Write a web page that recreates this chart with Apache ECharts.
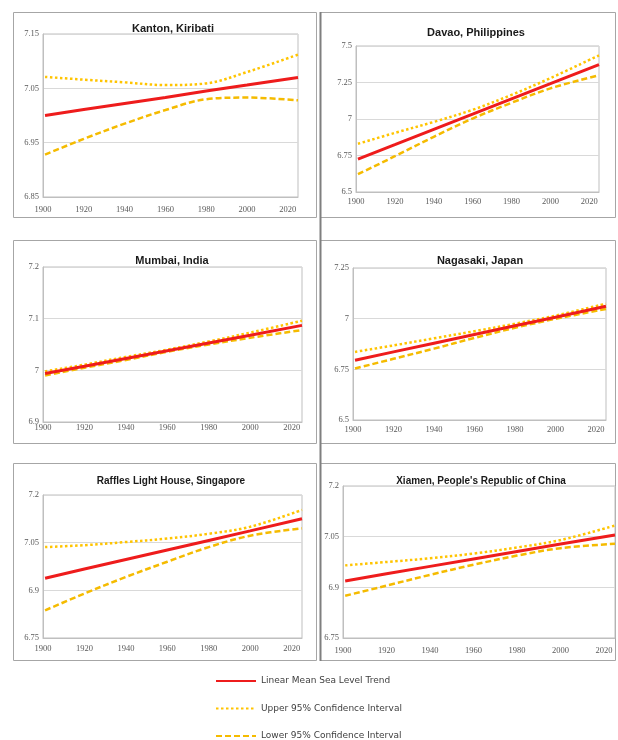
<!DOCTYPE html>
<html>
<head>
<meta charset="utf-8">
<script src="https://cdn.jsdelivr.net/npm/echarts@6/dist/echarts.min.js"></script>
<style>
html,body{margin:0;padding:0;background:#fff;}
#chart{width:618px;height:740px;}
</style>
</head>
<body>
<div id="chart"></div>
<script>
// ---------- data ----------
const years = [1901, 1920, 1940, 1960, 1980, 2000, 2025];
const stations = ['Kanton, Kiribati', 'Davao, Philippines', 'Mumbai, India', 'Nagasaki, Japan', 'Raffles Light House, Singapore', "Xiamen, People's Republic of China"];
const seriesNames = ['Linear Mean Sea Level Trend', 'Upper 95% Confidence Interval', 'Lower 95% Confidence Interval'];

const kantonTrend   = [7.000, 7.011, 7.022, 7.033, 7.045, 7.056, 7.070];
const kantonUpper   = [7.071, 7.066, 7.061, 7.056, 7.059, 7.080, 7.112];
const kantonLower   = [6.928, 6.957, 6.985, 7.010, 7.030, 7.033, 7.028];

const davaoTrend    = [6.725, 6.824, 6.929, 7.033, 7.138, 7.242, 7.373];
const davaoUpper    = [6.830, 6.905, 6.980, 7.063, 7.165, 7.280, 7.436];
const davaoLower    = [6.622, 6.745, 6.878, 7.003, 7.111, 7.210, 7.300];

const mumbaiTrend   = [6.994, 7.008, 7.023, 7.038, 7.053, 7.068, 7.087];
const mumbaiUpper   = [6.998, 7.011, 7.026, 7.040, 7.056, 7.073, 7.096];
const mumbaiLower   = [6.990, 7.005, 7.020, 7.036, 7.050, 7.063, 7.078];

const nagasakiTrend = [6.795, 6.836, 6.879, 6.922, 6.965, 7.007, 7.061];
const nagasakiUpper = [6.836, 6.868, 6.903, 6.938, 6.975, 7.015, 7.074];
const nagasakiLower = [6.754, 6.802, 6.852, 6.905, 6.955, 6.999, 7.048];

const rafflesTrend  = [6.938, 6.967, 6.997, 7.027, 7.057, 7.087, 7.125];
const rafflesUpper  = [7.036, 7.042, 7.052, 7.063, 7.078, 7.100, 7.153];
const rafflesLower  = [6.837, 6.890, 6.942, 6.990, 7.036, 7.072, 7.095];

const xiamenTrend   = [6.919, 6.940, 6.962, 6.984, 7.006, 7.028, 7.055];
const xiamenUpper   = [6.965, 6.975, 6.986, 7.000, 7.018, 7.040, 7.083];
const xiamenLower   = [6.875, 6.905, 6.937, 6.967, 6.994, 7.016, 7.029];

const xMin = 1900, xMax = 2025, xStep = 20;
const yMins  = [6.85, 6.5, 6.9, 6.5, 6.75, 6.75];
const yMaxs  = [7.15, 7.5, 7.2, 7.25, 7.2, 7.2];
const ySteps = [0.1, 0.25, 0.1, 0.25, 0.15, 0.15];

const panelData = [
  [kantonTrend, kantonUpper, kantonLower],
  [davaoTrend, davaoUpper, davaoLower],
  [mumbaiTrend, mumbaiUpper, mumbaiLower],
  [nagasakiTrend, nagasakiUpper, nagasakiLower],
  [rafflesTrend, rafflesUpper, rafflesLower],
  [xiamenTrend, xiamenUpper, xiamenLower]
];

// ---------- layout & style ----------
const grids = [
  {left: 43,  top: 34,  width: 255, height: 163},
  {left: 356, top: 46,  width: 243, height: 146},
  {left: 43,  top: 267, width: 259, height: 155},
  {left: 353, top: 268, width: 253, height: 152},
  {left: 43,  top: 495, width: 259, height: 143},
  {left: 343, top: 486, width: 272, height: 152}
];
const xLabelMargins = [8, 5, 1, 5, 6, 8];
const titlePos = [[168, 18], [471, 22], [167, 250], [475, 250], [166, 471], [476, 471]];
const titleSizes = [11, 11, 11, 11, 10, 10];
const boxes = [
  [13, 12, 303, 205], [320, 12, 295, 205],
  [13, 240, 303, 203], [320, 240, 295, 203],
  [13, 463, 303, 197], [320, 463, 295, 197]
];
const lineStyles = [
  {color: '#ee1c1c', width: 3, type: 'solid'},
  {color: '#ffc400', width: 2.5, type: [2.5, 2.5]},
  {color: '#f5bb00', width: 2.5, type: [6, 3]}
];
const labelColor = '#595959';
const fmt = v => String(Math.round(v * 100) / 100);

const option = {
  animation: false,
  backgroundColor: '#ffffff',
  title: stations.map((s, i) => ({
    text: s,
    left: titlePos[i][0], top: titlePos[i][1],
    textAlign: 'center',
    textStyle: {fontFamily: 'Liberation Sans', fontSize: titleSizes[i], fontWeight: 'bold', color: '#1a1a1a'}
  })),
  legend: {
    orient: 'vertical',
    left: 215, top: 676.5, height: 90, padding: 0,
    itemWidth: 40, itemHeight: 8, itemGap: 18.5,
    data: seriesNames,
    itemStyle: {opacity: 0},
    textStyle: {fontFamily: 'DejaVu Sans', fontSize: 9, lineHeight: 9, color: '#404040'}
  },
  grid: grids.map(g => Object.assign({show: true, borderColor: '#bfbfbf', borderWidth: 1, backgroundColor: '#fff'}, g)),
  xAxis: grids.map((g, i) => ({
    type: 'value', gridIndex: i, min: xMin, max: xMax, interval: xStep,
    axisLine: {show: true, lineStyle: {color: '#bfbfbf'}},
    axisTick: {show: false},
    splitLine: {show: false},
    axisLabel: {
      color: labelColor, fontFamily: 'Liberation Serif', fontSize: 8.5, margin: xLabelMargins[i],
      showMaxLabel: false,
      formatter: v => (v - xMin) % xStep === 0 ? String(v) : ''
    }
  })),
  yAxis: grids.map((g, i) => ({
    type: 'value', gridIndex: i, min: yMins[i], max: yMaxs[i], interval: ySteps[i],
    axisLine: {show: true, lineStyle: {color: '#bfbfbf'}},
    axisTick: {show: false},
    splitLine: {show: true, lineStyle: {color: '#d9d9d9', width: 1}},
    axisLabel: {color: labelColor, fontFamily: 'Liberation Serif', fontSize: 8.5, margin: 4, formatter: fmt}
  })),
  series: [],
  graphic: boxes.map((b, i) => ({
    type: 'rect', silent: true, z: -10,
    shape: {x: b[0] + 0.5, y: b[1] + 0.5, width: b[2], height: b[3]},
    style: {fill: 'none', stroke: '#a6a6a6', lineWidth: 1}
  })).concat([
    {type: 'line', silent: true, z: -9, shape: {x1: 320.5, y1: 12, x2: 320.5, y2: 661}, style: {stroke: '#7f7f7f', lineWidth: 2}}
  ])
};

panelData.forEach((trio, i) => {
  trio.forEach((vals, k) => {
    option.series.push({
      name: seriesNames[k],
      type: 'line',
      xAxisIndex: i, yAxisIndex: i,
      data: years.map((y, j) => [y, vals[j]]),
      showSymbol: false, symbol: 'none',
      smooth: k === 0 ? false : 0.35,
      z: k === 0 ? 3 : 2,
      lineStyle: Object.assign({}, lineStyles[k]),
      itemStyle: {color: lineStyles[k].color}
    });
  });
});

const chart = echarts.init(document.getElementById('chart'), null, {renderer: 'canvas'});
chart.setOption(option);
</script>
</body>
</html>
